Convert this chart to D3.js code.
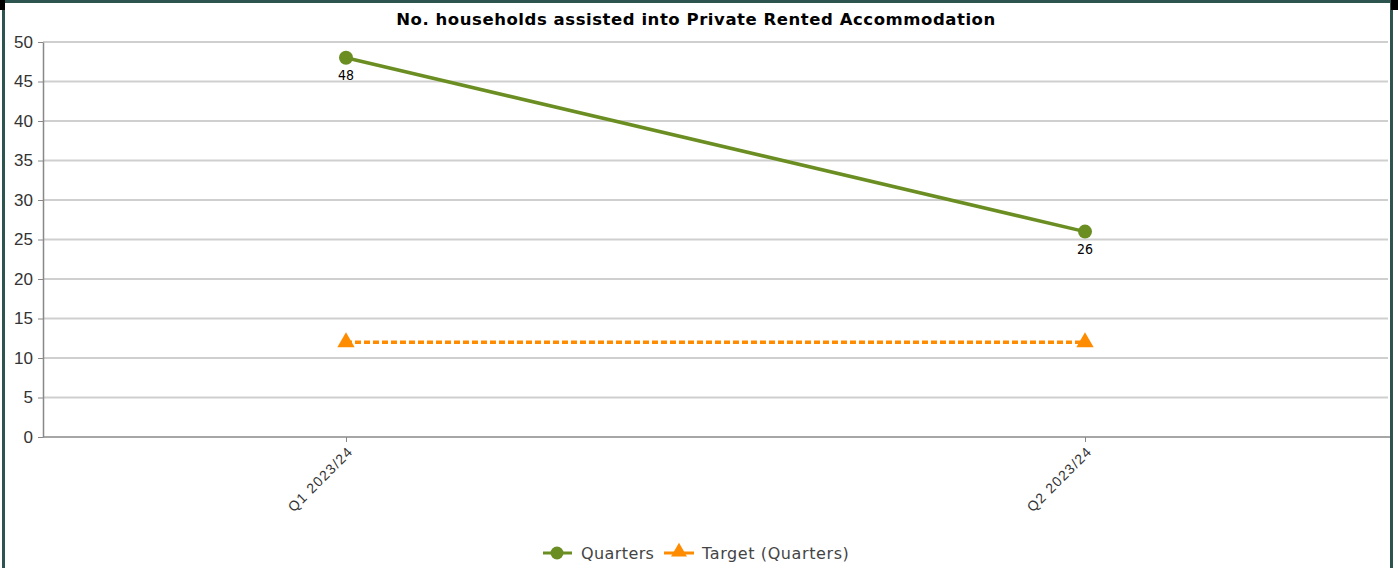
<!DOCTYPE html>
<html lang="en">
<head>
<meta charset="UTF-8">
<script src="https://d3js.org/d3.v7.min.js"></script>
<title>Chart</title>
<style>
  body{ margin:0; background:#fff; }
  svg{ display:block; font-family:"DejaVu Sans", Verdana, sans-serif; }
  .grid line{ stroke:#cfcfcf; stroke-width:2px; }
  .axis path, .axis line{ stroke:#888; }
  .axis text{ fill:#333; }
</style>
</head>
<body>
<svg id="chart" width="1398" height="568"></svg>
<script>
var categories = ["Q1 2023/24", "Q2 2023/24"];
var quarters = [48, 26];
var target = [12, 12];
var yTicks = [0, 5, 10, 15, 20, 25, 30, 35, 40, 45, 50];

var W = 1398, H = 568;
var mLeft = 43, mRight = 1388, mTop = 42, mBottom = 437;

var svg = d3.select("#chart");

// frame
svg.append("rect").attr("x",3.5).attr("y",1.5).attr("width",1388).attr("height",580)
  .attr("fill","none").attr("stroke","#2e5450").attr("stroke-width",3);
svg.append("rect").attr("x",0).attr("y",0).attr("width",5).attr("height",10).attr("fill","#000");
svg.append("rect").attr("x",1391).attr("y",0).attr("width",7).attr("height",10).attr("fill","#000");

var x = d3.scalePoint().domain(categories).range([mLeft, mRight]).padding(0.41);
var y = d3.scaleLinear().domain([0, 50]).range([mBottom, mTop]);

// title
svg.append("text").attr("x", 696).attr("y", 25).attr("text-anchor","middle")
  .attr("font-size","16.5px").attr("font-weight","bold").attr("fill","#000")
  .attr("letter-spacing","0.55px")
  .text("No. households assisted into Private Rented Accommodation");

// grid
svg.append("g").attr("class","grid")
  .selectAll("line").data(yTicks.filter(function(d){ return d > 0; })).enter()
  .append("line")
  .attr("x1", mLeft).attr("x2", mRight)
  .attr("y1", function(d){ return y(d); }).attr("y2", function(d){ return y(d); });

// y axis
var yAxis = svg.append("g").attr("class","axis")
  .attr("transform","translate(" + mLeft + ",0)")
  .call(d3.axisLeft(y).tickValues(yTicks).tickSize(5).tickSizeOuter(0));
yAxis.select(".domain").attr("stroke-width",1.5);
yAxis.selectAll("text").attr("font-size","17px").attr("fill","#4a4a4a").attr("x",-10);

// x axis
var xAxis = svg.append("g").attr("class","axis")
  .attr("transform","translate(0," + mBottom + ")")
  .call(d3.axisBottom(x).tickSize(5).tickSizeOuter(0));
xAxis.select(".domain").attr("d","M" + mLeft + ",0H1390").attr("stroke-width",1.5);
xAxis.selectAll("text")
  .attr("font-size","14px").attr("fill","#333").attr("letter-spacing","1.2px")
  .attr("text-anchor","end").attr("dy","0.35em").attr("y",0).attr("x",0)
  .attr("transform","translate(4,12) rotate(-45)");

// target line
var line = d3.line().x(function(d,i){ return x(categories[i]); }).y(function(d){ return y(d); });
svg.append("path").datum(target).attr("d", line)
  .attr("fill","none").attr("stroke","#ff8c00").attr("stroke-width",3.5)
  .attr("stroke-dasharray","6,3");
svg.selectAll(".tri").data(target).enter().append("path")
  .attr("class","tri")
  .attr("transform", function(d,i){ return "translate(" + x(categories[i]) + "," + y(d) + ")"; })
  .attr("d", d3.symbol().type(d3.symbolTriangle).size(130))
  .attr("fill","#ff8c00");

// quarters line
svg.append("path").datum(quarters).attr("d", line)
  .attr("fill","none").attr("stroke","#6b8e23").attr("stroke-width",3.5);
svg.selectAll(".dot").data(quarters).enter().append("circle")
  .attr("class","dot")
  .attr("cx", function(d,i){ return x(categories[i]); })
  .attr("cy", function(d){ return y(d); })
  .attr("r", 7).attr("fill","#6b8e23");
svg.selectAll(".lbl").data(quarters).enter().append("text")
  .attr("class","lbl")
  .attr("x", function(d,i){ return x(categories[i]); })
  .attr("y", function(d){ return y(d) + 22; })
  .attr("text-anchor","middle").attr("font-size","14px").attr("fill","#000")
  .attr("font-family","DejaVu Sans Condensed, DejaVu Sans")
  .text(function(d){ return d; });

// legend
var lg = svg.append("g").attr("transform","translate(0,553)");
lg.append("line").attr("x1",543).attr("x2",572).attr("y1",0).attr("y2",0).attr("stroke","#6b8e23").attr("stroke-width",3);
lg.append("circle").attr("cx",557).attr("cy",0).attr("r",6.5).attr("fill","#6b8e23");
lg.append("text").attr("x",581).attr("y",6).attr("font-size","16px").attr("letter-spacing","0.4px").attr("fill","#444").text("Quarters");
lg.append("line").attr("x1",664).attr("x2",694).attr("y1",0).attr("y2",0).attr("stroke","#ff8c00").attr("stroke-width",3);
lg.append("path").attr("transform","translate(679,-1)")
  .attr("d", d3.symbol().type(d3.symbolTriangle).size(110)).attr("fill","#ff8c00");
lg.append("text").attr("x",702).attr("y",6).attr("font-size","16px").attr("letter-spacing","0.6px").attr("fill","#444").text("Target (Quarters)");
</script>
</body>
</html>
